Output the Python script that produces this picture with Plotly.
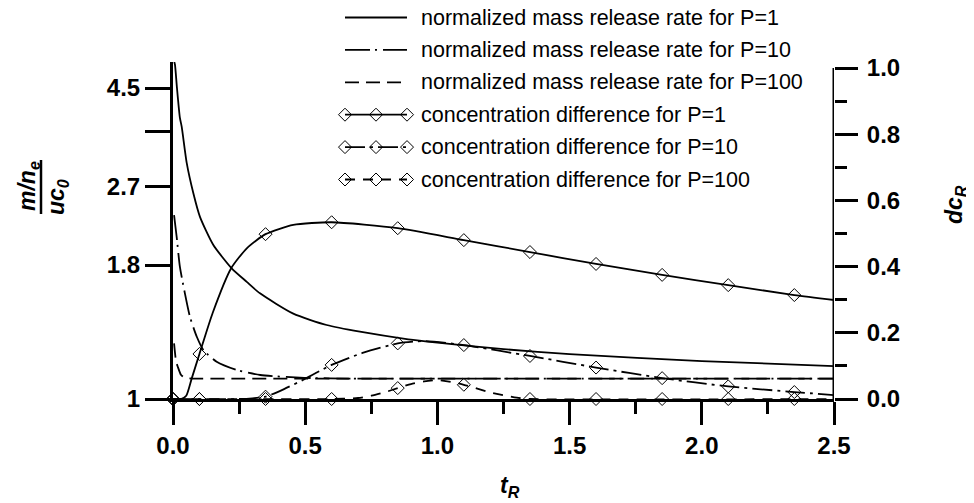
import math
import plotly.graph_objects as go

# ---------------- data ----------------
# normalized mass release rate (left axis, m/n_e / (u c0))
t_m1 = [0.005, 0.0076, 0.015, 0.026, 0.033, 0.052, 0.077, 0.102, 0.152, 0.222, 0.279, 0.329,
        0.455, 0.581, 0.707, 0.89, 1.0, 1.25, 1.5, 2.0, 2.5]
m_p1 = [5.15, 5.07, 4.5, 3.86, 3.68, 3.05, 2.61, 2.31, 2.00, 1.77, 1.65, 1.555,
        1.40, 1.32, 1.275, 1.226, 1.205, 1.165, 1.135, 1.095, 1.067]

t_m10 = [0.004, 0.014, 0.026, 0.045, 0.064, 0.09, 0.115, 0.165, 0.24, 0.33, 0.48, 0.7, 1.0, 1.5, 2.0, 2.5]
m_p10 = [2.33, 2.08, 1.785, 1.555, 1.378, 1.242, 1.16, 1.091, 1.046, 1.019, 1.005, 1.0, 1.0, 1.0, 1.0, 1.0]

t_m100 = [0.004, 0.012, 0.019, 0.03, 0.045, 0.08, 0.2, 1.0, 2.5]
m_p100 = [1.20, 1.09, 1.06, 1.02, 1.004, 1.0, 1.0, 1.0, 1.0]

# concentration difference (right axis, dc_R) - curve points
t_c1 = [0, 0.03, 0.05, 0.07, 0.1, 0.15, 0.22, 0.28, 0.35, 0.455, 0.6, 0.85, 1.1, 1.35, 1.6, 1.85, 2.1, 2.35, 2.5]
c_p1 = [0, 0, 0.01, 0.06, 0.136, 0.26, 0.395, 0.456, 0.498, 0.526, 0.534, 0.516, 0.48, 0.444, 0.408, 0.375, 0.344, 0.314, 0.299]

t_c10 = [0, 0.25, 0.3, 0.35, 0.42, 0.49, 0.6, 0.72, 0.85, 0.95, 1.1, 1.35, 1.6, 1.85, 2.1, 2.35, 2.5]
c_p10 = [0, 0, 0.002, 0.007, 0.03, 0.057, 0.103, 0.14, 0.168, 0.175, 0.163, 0.13, 0.095, 0.063, 0.038, 0.021, 0.012]

t_c100 = [0, 0.6, 0.7, 0.75, 0.8, 0.85, 0.9, 0.95, 1.0, 1.05, 1.1, 1.2, 1.3, 1.35, 2.5]
c_p100 = [0, 0, 0.003, 0.01, 0.02, 0.033, 0.045, 0.053, 0.057, 0.052, 0.043, 0.02, 0.004, 0, 0]

# concentration difference - marker points
t_mark = [0, 0.1, 0.35, 0.6, 0.85, 1.1, 1.35, 1.6, 1.85, 2.1, 2.35]
mk_p1 = [0, 0.136, 0.498, 0.534, 0.516, 0.48, 0.444, 0.408, 0.375, 0.344, 0.314]
mk_p10 = [0, 0, 0.007, 0.103, 0.168, 0.163, 0.13, 0.095, 0.063, 0.038, 0.021]
mk_p100 = [0, 0, 0, 0, 0.033, 0.043, 0, 0, 0, 0, 0]

legend_labels = [
    "normalized mass release rate for P=1",
    "normalized mass release rate for P=10",
    "normalized mass release rate for P=100",
    "concentration difference for P=1",
    "concentration difference for P=10",
    "concentration difference for P=100",
]

x_ticks = [0, 0.5, 1.0, 1.5, 2.0, 2.5]
left_tickvals = [0.9, 1.8, 2.7, 3.6, 4.5]
left_ticktext = ["1", "1.8", "2.7", "", "4.5"]

# ---------------- styling ----------------
OFF = 8                      # page body margin of the browser
W, H = 974 - OFF, 503 - OFF  # figure size that fits the window


def px(x):  # window pixel x -> paper fraction
    return (x - OFF) / W


def py(y):  # window pixel y -> paper fraction
    return 1 - (y - OFF) / H


PL, PR, PT, PB = 173, 834, 62, 399
FONT = "Liberation Sans, Arial, sans-serif"
BLACK = "black"
LW = 1.8

DASH_M10 = "25px,5px,2px,6px"
DASH_M100 = "14px,7px"
DASH_C10 = "20px,5px,3px,5px"
DASH_C100 = "10px,8px"

fig = go.Figure()


def add_line(x, y, dash, yaxis):
    fig.add_trace(go.Scatter(x=x, y=y, mode="lines", xaxis="x", yaxis=yaxis,
                             line=dict(color=BLACK, width=LW, dash=dash, shape="spline", smoothing=0.6),
                             showlegend=False, hoverinfo="skip"))


def add_marks(x, y):
    fig.add_trace(go.Scatter(x=x, y=y, mode="markers", xaxis="x", yaxis="y2",
                             marker=dict(symbol="diamond-open", size=10, color=BLACK, line=dict(width=1)),
                             cliponaxis=False, showlegend=False, hoverinfo="skip"))


add_line(t_m1, m_p1, "solid", "y")
add_line(t_m10, m_p10, DASH_M10, "y")
add_line(t_m100, m_p100, DASH_M100, "y")
add_line(t_c1, c_p1, "solid", "y2")
add_line(t_c10, c_p10, DASH_C10, "y2")
add_line(t_c100, c_p100, DASH_C100, "y2")
add_marks(t_mark, mk_p1)
add_marks(t_mark, mk_p10)
add_marks(t_mark, mk_p100)

# ---------------- custom legend (own small axis) ----------------
LEG_X0, LEG_X1 = 345, 407
LEG_ROW0, LEG_STEP = 17.5, 32.4
leg_dash = ["solid", DASH_M10, DASH_M100, "solid", DASH_C10, DASH_C100]
for i, lab in enumerate(legend_labels):
    if i < 3:
        fig.add_trace(go.Scatter(x=[0, 1], y=[i, i], mode="lines", xaxis="x3", yaxis="y3",
                                 line=dict(color=BLACK, width=LW, dash=leg_dash[i]),
                                 showlegend=False, hoverinfo="skip"))
    else:
        fig.add_trace(go.Scatter(x=[0, 0.5, 1], y=[i, i, i], mode="lines+markers", xaxis="x3", yaxis="y3",
                                 line=dict(color=BLACK, width=LW, dash=leg_dash[i]),
                                 marker=dict(symbol="diamond-open", size=10, color=BLACK, line=dict(width=1)),
                                 cliponaxis=False, showlegend=False, hoverinfo="skip"))
    fig.add_annotation(x=1, y=i, xref="x3", yref="y3", text=lab, showarrow=False,
                       xanchor="left", yanchor="middle", xshift=13, borderpad=0,
                       font=dict(family=FONT, size=21.5, color=BLACK))

# legend axis: top of its domain at the window top (pixel OFF), rows every LEG_STEP px
leg_bot_px = LEG_ROW0 + 5.6 * LEG_STEP
leg_r_top = -(LEG_ROW0 - OFF) / LEG_STEP
leg_r_bot = 5.6
tick_font = dict(family=FONT, size=24, color=BLACK, weight="bold")

fig.update_layout(
    width=W, height=H,
    template="none",
    paper_bgcolor="white", plot_bgcolor="rgba(0,0,0,0)",
    margin=dict(l=0, r=0, t=0, b=0),
    showlegend=False,
    xaxis=dict(domain=[px(PL), px(PR)], anchor="y", range=[0, 2.5], tickvals=x_ticks,
               tickformat=".1f", ticks="outside", ticklen=23, tickwidth=3, tickcolor=BLACK,
               showline=True, linewidth=3, linecolor=BLACK, showgrid=False, zeroline=False,
               tickfont=tick_font, automargin=False,
               minor=dict(dtick=0.25, ticks="outside", ticklen=12, tickwidth=3, tickcolor=BLACK, showgrid=False)),
    yaxis=dict(domain=[py(PB), py(PT)], anchor="x", type="log",
               range=[math.log10(0.9), math.log10(0.9) + (PB - PT) / 444.9],
               tickvals=left_tickvals, ticktext=left_ticktext,
               ticks="outside", ticklen=25, tickwidth=3, tickcolor=BLACK,
               showline=True, linewidth=3, linecolor=BLACK, showgrid=False, zeroline=False,
               tickfont=tick_font, automargin=False),
    yaxis2=dict(domain=[py(PB), py(PT)], anchor="x", overlaying="y", side="right",
                range=[0, (PB - PT) / 331.0], dtick=0.2, tick0=0, tickformat=".1f",
                ticks="outside", ticklen=23, tickwidth=3, tickcolor=BLACK, ticklabelstandoff=4,
                showline=False, showgrid=False, zeroline=False, tickfont=tick_font, automargin=False,
                minor=dict(dtick=0.1, ticks="outside", ticklen=12, tickwidth=3, tickcolor=BLACK, showgrid=False)),
    xaxis3=dict(domain=[px(LEG_X0 - 6.2), px(LEG_X1 + 6.2)], anchor="y3", range=[-0.1, 1.1], visible=False),
    yaxis3=dict(domain=[py(leg_bot_px), 1.0], anchor="x3", range=[leg_r_bot, leg_r_top], visible=False),
)

# right axis line (only up to 1.0)
fig.add_shape(type="line", xref="x", yref="y2", x0=2.5, x1=2.5, y0=0, y1=1.0,
              line=dict(color=BLACK, width=3))

# axis titles
title_font = dict(family=FONT, size=23, color=BLACK, weight="bold", style="italic")
fig.add_annotation(x=px(28), y=py(186), xref="paper", yref="paper", showarrow=False,
                   text="<i>m/n</i><sub>e</sub>", textangle=-90, xanchor="center", yanchor="middle",
                   font=title_font)
fig.add_annotation(x=px(57), y=py(197), xref="paper", yref="paper", showarrow=False,
                   text="<i>uc<sub>0</sub></i>", textangle=-90, xanchor="center", yanchor="middle",
                   font=title_font)
fig.add_shape(type="line", xref="paper", yref="paper", x0=px(41), x1=px(41),
              y0=py(160), y1=py(214), line=dict(color=BLACK, width=2.5))
fig.add_annotation(x=px(955), y=py(205), xref="paper", yref="paper", showarrow=False,
                   text="<i>dc<sub>R</sub></i>", textangle=-90, xanchor="center", yanchor="middle",
                   font=title_font)
fig.add_annotation(x=px(510), y=py(486), xref="paper", yref="paper", showarrow=False,
                   text="<i>t<sub>R</sub></i>", xanchor="center", yanchor="middle",
                   font=title_font)

fig.write_html("out.html")
